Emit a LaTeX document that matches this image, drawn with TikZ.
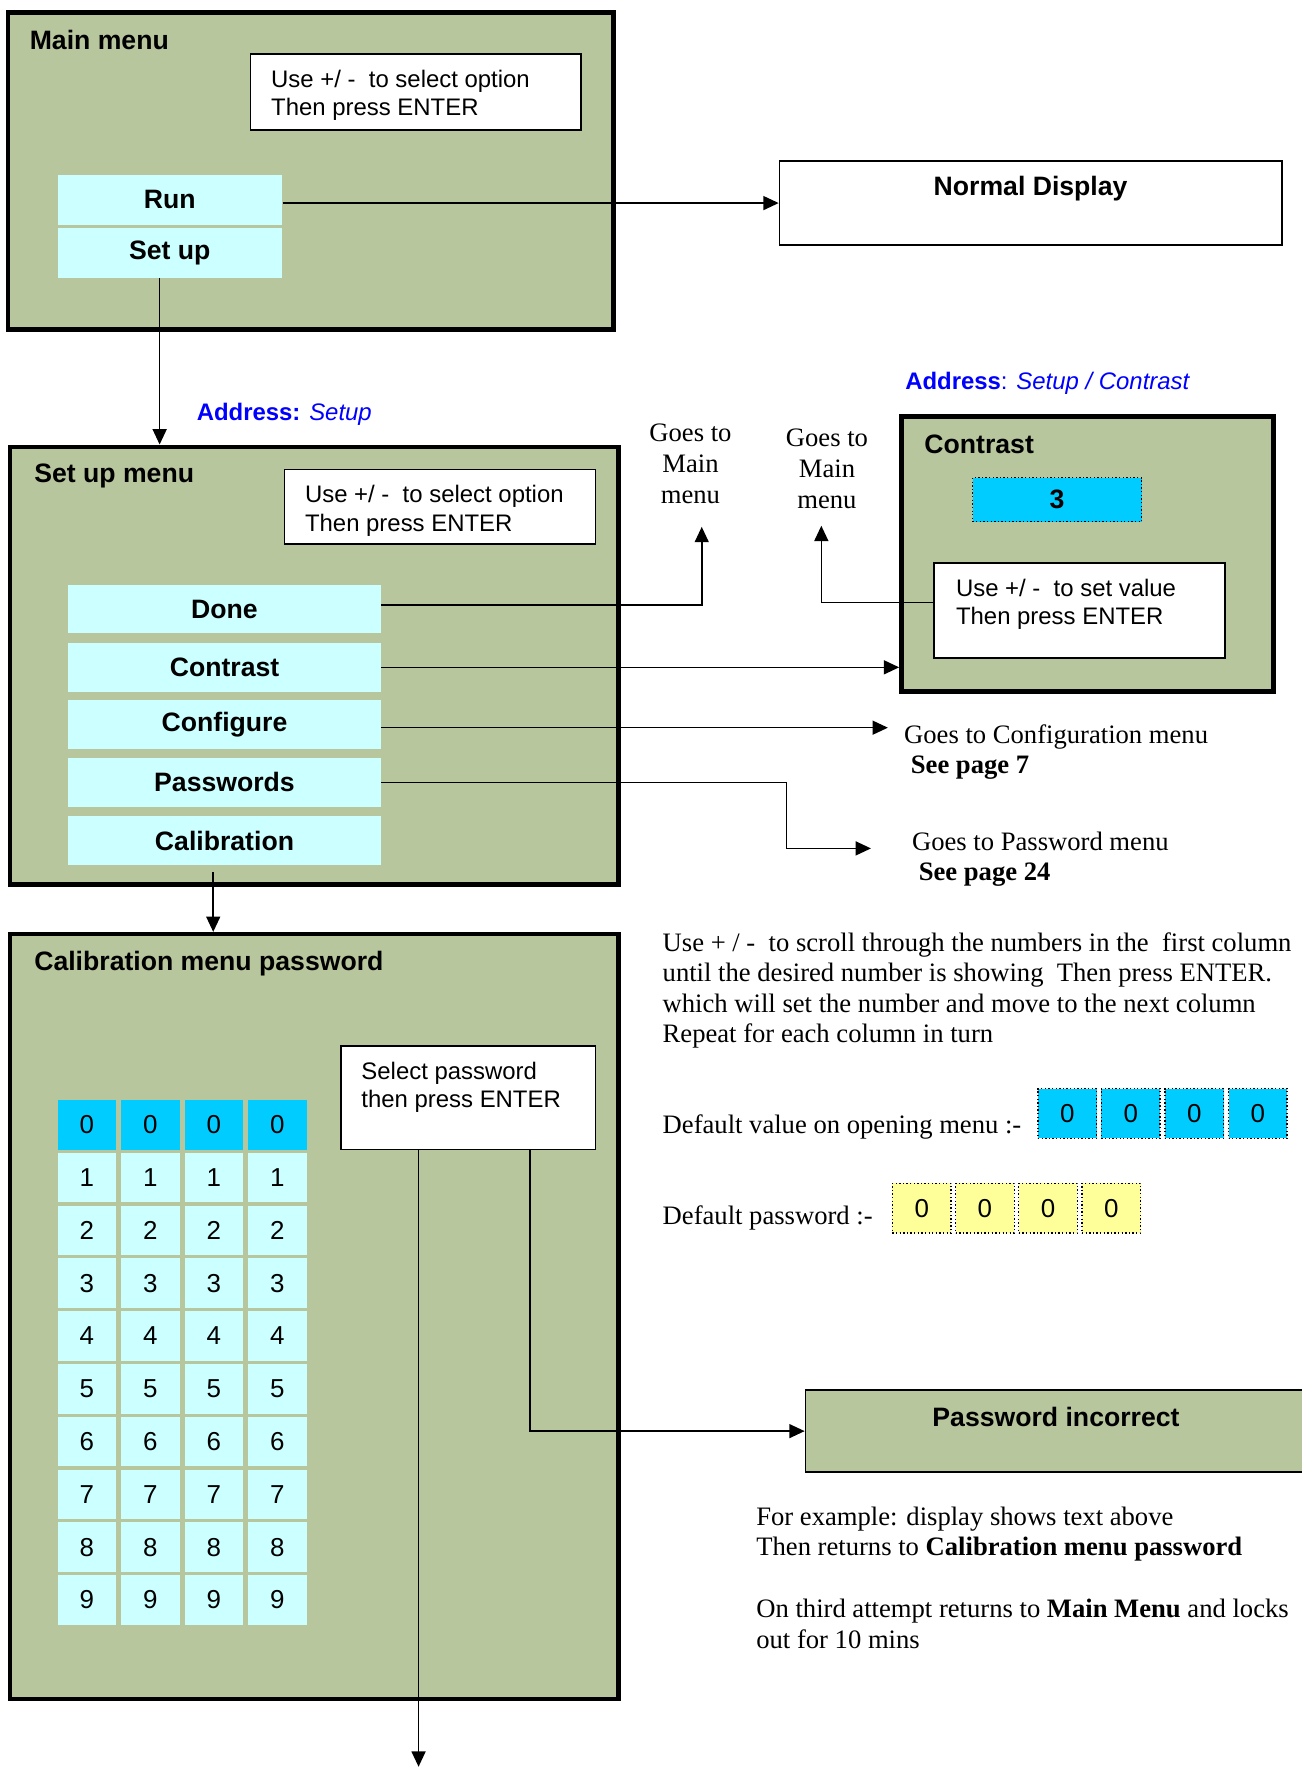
\documentclass[tikz,border=0pt]{standalone}
\usepackage{fontspec}
\setmainfont{Liberation Serif}
\setsansfont{Liberation Sans}
\usetikzlibrary{arrows.meta}

\definecolor{menugreen}{RGB}{184,198,157}
\definecolor{optcyan}{RGB}{204,255,255}
\definecolor{selcyan}{RGB}{0,204,255}
\definecolor{pwyellow}{RGB}{255,255,153}
\definecolor{addrblue}{RGB}{0,0,255}

\tikzstyle{menu} = [rectangle, draw=black, line width=2pt, fill=menugreen]
\tikzstyle{display} = [rectangle, draw=black, line width=0.8pt]
\tikzstyle{title} = [inner sep=0pt, font=\sffamily\bfseries\fontsize{11.8}{14}\selectfont]
\tikzstyle{option} = [rectangle, fill=optcyan, minimum width=138.5pt, minimum height=21.5pt, font=\sffamily\bfseries\fontsize{11.8}{14}\selectfont]
\tikzstyle{hint} = [rectangle, draw=black, fill=white, line width=0.7pt]
\tikzstyle{hinttext} = [align=left, inner sep=0pt, font=\sffamily\fontsize{10.6}{12.5}\selectfont]
\tikzstyle{digit} = [rectangle, fill=optcyan, minimum width=26pt, minimum height=22pt, font=\sffamily\fontsize{11.5}{14}\selectfont]
\tikzstyle{digitsel} = [digit, fill=selcyan]
\tikzstyle{dotbox} = [digit, draw=black, densely dotted, line width=0.6pt]
\tikzstyle{note} = [align=left, inner sep=0pt, font=\fontsize{11.8}{13.5}\selectfont]
\tikzstyle{address} = [inner sep=0pt, text=addrblue, font=\sffamily\fontsize{10.6}{12.5}\selectfont]
\tikzstyle{arrow1} = [line width=0.7pt, ->, >={Triangle[length=6.8pt, width=6.2pt]}]

\begin{document}
\begin{tikzpicture}[x=0.5pt, y=-0.5pt]

    \useasboundingbox (0,0) rectangle (1154,1568);

    % main menu
    \node (mainmenu) [menu, minimum width=268.5pt, minimum height=140.5pt] at (275.5,151.5) {};
    \node (maintitle) [title, anchor=west] at (26,35) {Main menu};
    \node (mainhint) [hint, minimum width=146.5pt, minimum height=33.5pt] at (368.5,81.5) {};
    \node (mainhinttext) [hinttext, anchor=north west] at (240,62) {Use +/ - \ to select option\\Then press ENTER};
    \node (run) [option, minimum width=99.5pt, minimum height=22pt] at (150.5,177) {Run};
    \node (setup) [option, minimum width=99.5pt, minimum height=22pt] at (150.5,224) {Set up};

    \node (normdisp) [display, minimum width=222.5pt, minimum height=37pt] at (913.5,180) {};
    \node (normtitle) [title] at (913.5,167) {Normal Display};

    % set up menu
    \node (addrsetup) [address, anchor=west] at (174,367) {\textbf{Address:} \textit{Setup}};
    \node (setupmenu) [menu, minimum width=269.5pt, minimum height=194pt] at (278.5,590) {};
    \node (setuptitle) [title, anchor=west] at (30,422) {Set up menu};
    \node (setuphint) [hint, minimum width=138pt, minimum height=33pt] at (390,449) {};
    \node (setuphinttext) [hinttext, anchor=north west] at (270,430) {Use +/ - \ to select option\\Then press ENTER};
    \node (done) [option] at (199,540) {Done};
    \node (contrast) [option] at (199,591.5) {Contrast};
    \node (configure) [option] at (199,642) {Configure};
    \node (passwords) [option] at (199,693.5) {Passwords};
    \node (calib) [option] at (199,745) {Calibration};

    \node (gomainA) [note, align=center, anchor=north, font=\fontsize{11.8}{13.75}\selectfont] at (612,375) {Goes to\\Main\\menu};
    \node (gomainB) [note, align=center, anchor=north, font=\fontsize{11.8}{13.75}\selectfont] at (733,380) {Goes to\\Main\\menu};
    \coordinate (doneup) at (622,467);
    \coordinate (contrastup) at (728,466);

    % contrast
    \node (addrcontrast) [address, anchor=west] at (802,340) {\textbf{Address}: \textit{Setup / Contrast}};
    \node (contrastmenu) [menu, minimum width=165pt, minimum height=122pt] at (964,491) {};
    \node (contrasttitle) [title, anchor=west] at (819,394) {Contrast};
    \node (contrastval) [digitsel, draw=black, densely dotted, line width=0.6pt, minimum width=75pt, minimum height=19.5pt, font=\sffamily\bfseries\fontsize{11.8}{14}\selectfont] at (937,443) {3};
    \node (contrasthint) [hint, minimum width=129pt, minimum height=42pt] at (957,541) {};
    \node (contrasthinttext) [hinttext, anchor=north west] at (847,513) {Use +/ - \ to set value\\Then press ENTER};

    \node (gocfg) [note, anchor=north west] at (801,642) {Goes to Configuration menu\\\hspace*{3pt}\textbf{See page 7}};
    \node (gopwd) [note, anchor=north west] at (808,737) {Goes to Password menu\\\hspace*{3pt}\textbf{See page 24}};
    \coordinate (cfgin) at (787,645);
    \coordinate (pwbend) at (697,720);
    \coordinate (pwdin) at (772,752);

    % calibration password
    \node (calmenu) [menu, minimum width=269.5pt, minimum height=339pt] at (278.5,1167) {};
    \node (caltitle) [title, anchor=west] at (30,854) {Calibration menu password};
    \node (selhint) [hint, minimum width=113pt, minimum height=46pt] at (415,973) {};
    \node (selhinttext) [hinttext, anchor=north west] at (320,941) {Select password\\then press ENTER};

    \foreach \c in {0,...,3} {
        \node (dsel\c) [digitsel] at (77+56.3*\c, 997) {0};
        \foreach \r in {1,...,9}
            \node (d\c\r) [digit] at (77+56.3*\c, 997+46.8*\r) {\r};
        \node (defval\c) [dotbox, fill=selcyan] at (946+56.3*\c, 987) {0};
        \node (defpw\c) [dotbox, fill=pwyellow] at (817+56*\c, 1071) {0};
    }
    \coordinate (calexit) at (371,1566);

    \node (pwwrong) [menu, line width=0.8pt, minimum width=223pt, minimum height=36.5pt] at (937,1268.5) {};
    \node (pwwrongtitle) [title] at (936,1256) {Password incorrect};

    \node (scrollnote) [note, anchor=north west] at (587,826) {Use + / - \ to scroll through the numbers in the \ first column\\until the desired number is showing \ Then press ENTER.\\which will set the number and move to the next column\\Repeat for each column in turn};
    \node (defvaltext) [note, anchor=west] at (587,999) {Default value on opening menu :-};
    \node (defpwtext) [note, anchor=west] at (587,1080) {Default password :-};
    \node (examplenote) [note, anchor=north west] at (670,1335) {For example: display shows text above\\Then returns to \textbf{Calibration menu password}};
    \node (locknote) [note, anchor=north west] at (670,1417) {On third attempt returns to \textbf{Main Menu} and locks\\out for 10 mins};

    % connectors
    \draw [arrow1] ([yshift=-1.5pt]run.east) -- ([yshift=-1.5pt]run.east -| normdisp.west);
    \draw [arrow1] ([xshift=-4.5pt]setup.south) -- ([xshift=-4.5pt]setup.south |- setupmenu.north);
    \draw [arrow1] ([yshift=2pt]done.east) -| (doneup);
    \draw [arrow1] (contrast.east) -- (contrast.east -| contrastmenu.west);
    \draw [arrow1] ([yshift=-1.5pt]configure.east) -- ([yshift=-1.5pt]configure.east -| cfgin);
    \draw [arrow1] (passwords.east) -| (pwbend) |- (pwdin);
    \draw [arrow1] ([yshift=3.5pt]contrasthint.west) -| (contrastup);
    \draw [arrow1] ([xshift=-5pt, yshift=-3pt]calib.south) -- ([xshift=-5pt]calib.south |- calmenu.north);
    \draw [arrow1] ([xshift=-22pt]selhint.south) -- ([xshift=-22pt]selhint.south |- calexit);
    \draw [arrow1] ([xshift=27.5pt]selhint.south) |- (pwwrong.west);

\end{tikzpicture}
\end{document}
